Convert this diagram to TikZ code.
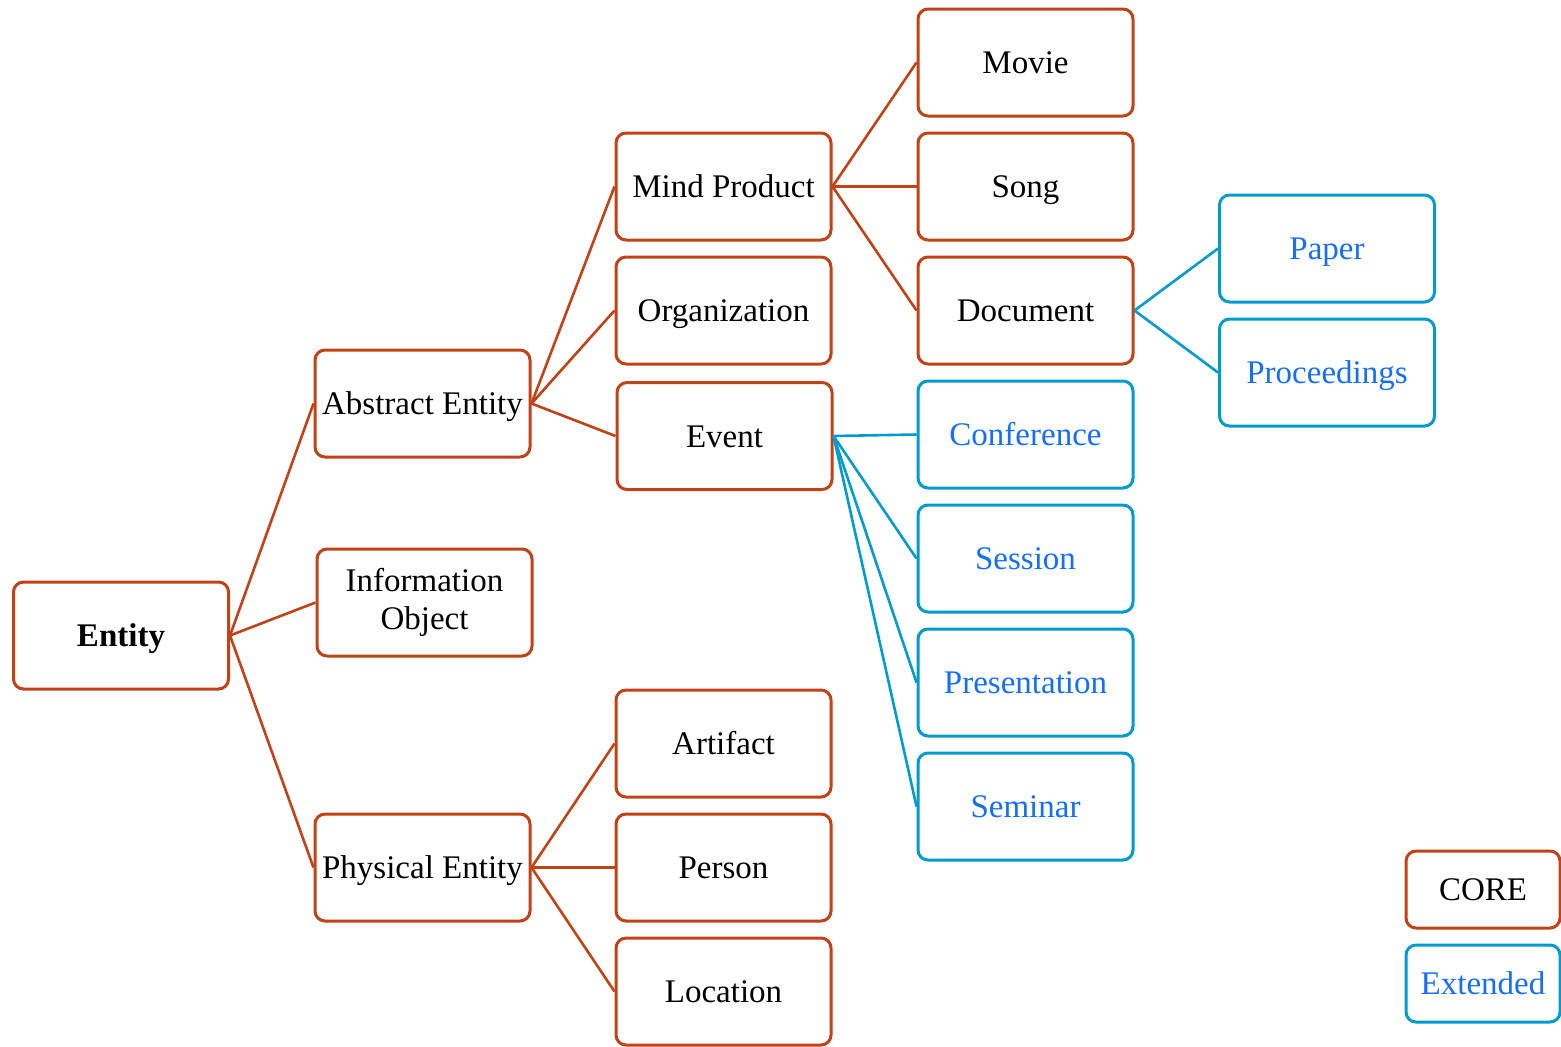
\documentclass[tikz,border=0pt]{standalone}
\usepackage{fontspec}
\setmainfont{Liberation Serif}
\definecolor{corered}{RGB}{193,66,22}
\definecolor{extline}{RGB}{0,155,206}
\definecolor{exttext}{RGB}{22,110,255}
\begin{document}
\begin{tikzpicture}[x=0.5pt,y=-0.5pt,
  box/.style={rectangle, rounded corners=5pt, line width=1.5pt,
    minimum width=107.5pt, minimum height=53.5pt, inner sep=0pt,
    align=center, font=\fontsize{16.5}{19}\selectfont},
  core/.style={box, draw=corered, text=black},
  ext/.style={box, draw=extline, text=exttext},
  oneline/.style={text height=13.3pt, text depth=2pt},
  legend/.style={minimum width=77pt, minimum height=38.5pt},
  cedge/.style={draw=corered, line width=1.3pt},
  eedge/.style={draw=extline, line width=1.3pt}]
\useasboundingbox (0,0) rectangle (1561,1046);

% level 0
\node[core, oneline, font=\bfseries\fontsize{16.5}{19}\selectfont] (entity) at (121,635.5) {Entity};
% level 1
\node[core, oneline] (abstract) at (422.5,403.5) {Abstract Entity};
\node[core] (info) at (424.5,602.5) {Information\\Object};
\node[core, oneline] (physical) at (422.5,867.5) {Physical Entity};
% level 2
\node[core, oneline] (mind) at (723.5,186.5) {Mind Product};
\node[core, oneline] (org) at (723.5,310.5) {Organization};
\node[core, oneline] (event) at (724.5,436) {Event};
\node[core, oneline] (artifact) at (723.5,743.5) {Artifact};
\node[core, oneline] (person) at (723.5,867.5) {Person};
\node[core, oneline] (location) at (723.5,991.5) {Location};
% level 3
\node[core, oneline] (movie) at (1025.5,62.5) {Movie};
\node[core, oneline] (song) at (1025.5,186.5) {Song};
\node[core, oneline] (document) at (1025.5,310.5) {Document};
\node[ext, oneline] (conference) at (1025.5,434.5) {Conference};
\node[ext, oneline] (session) at (1025.5,558.5) {Session};
\node[ext, oneline] (presentation) at (1025.5,682.5) {Presentation};
\node[ext, oneline] (seminar) at (1025.5,806.5) {Seminar};
% level 4
\node[ext, oneline] (paper) at (1327,248.5) {Paper};
\node[ext, oneline] (proceedings) at (1327,372.5) {Proceedings};
% legend
\node[core, oneline, legend] (legcore) at (1483,889.5) {CORE};
\node[ext, oneline, legend] (legext) at (1483,983.5) {Extended};

% core connectors
\foreach \a/\b in {entity/abstract, entity/info, entity/physical,
  abstract/mind, abstract/org, abstract/event,
  physical/artifact, physical/person, physical/location,
  mind/movie, mind/song, mind/document}
  \path[cedge] (\a.east) -- (\b.west);
% extended connectors
\foreach \a/\b in {event/conference, event/session, event/presentation,
  event/seminar, document/paper, document/proceedings}
  \path[eedge] (\a.east) -- (\b.west);
\end{tikzpicture}
\end{document}
